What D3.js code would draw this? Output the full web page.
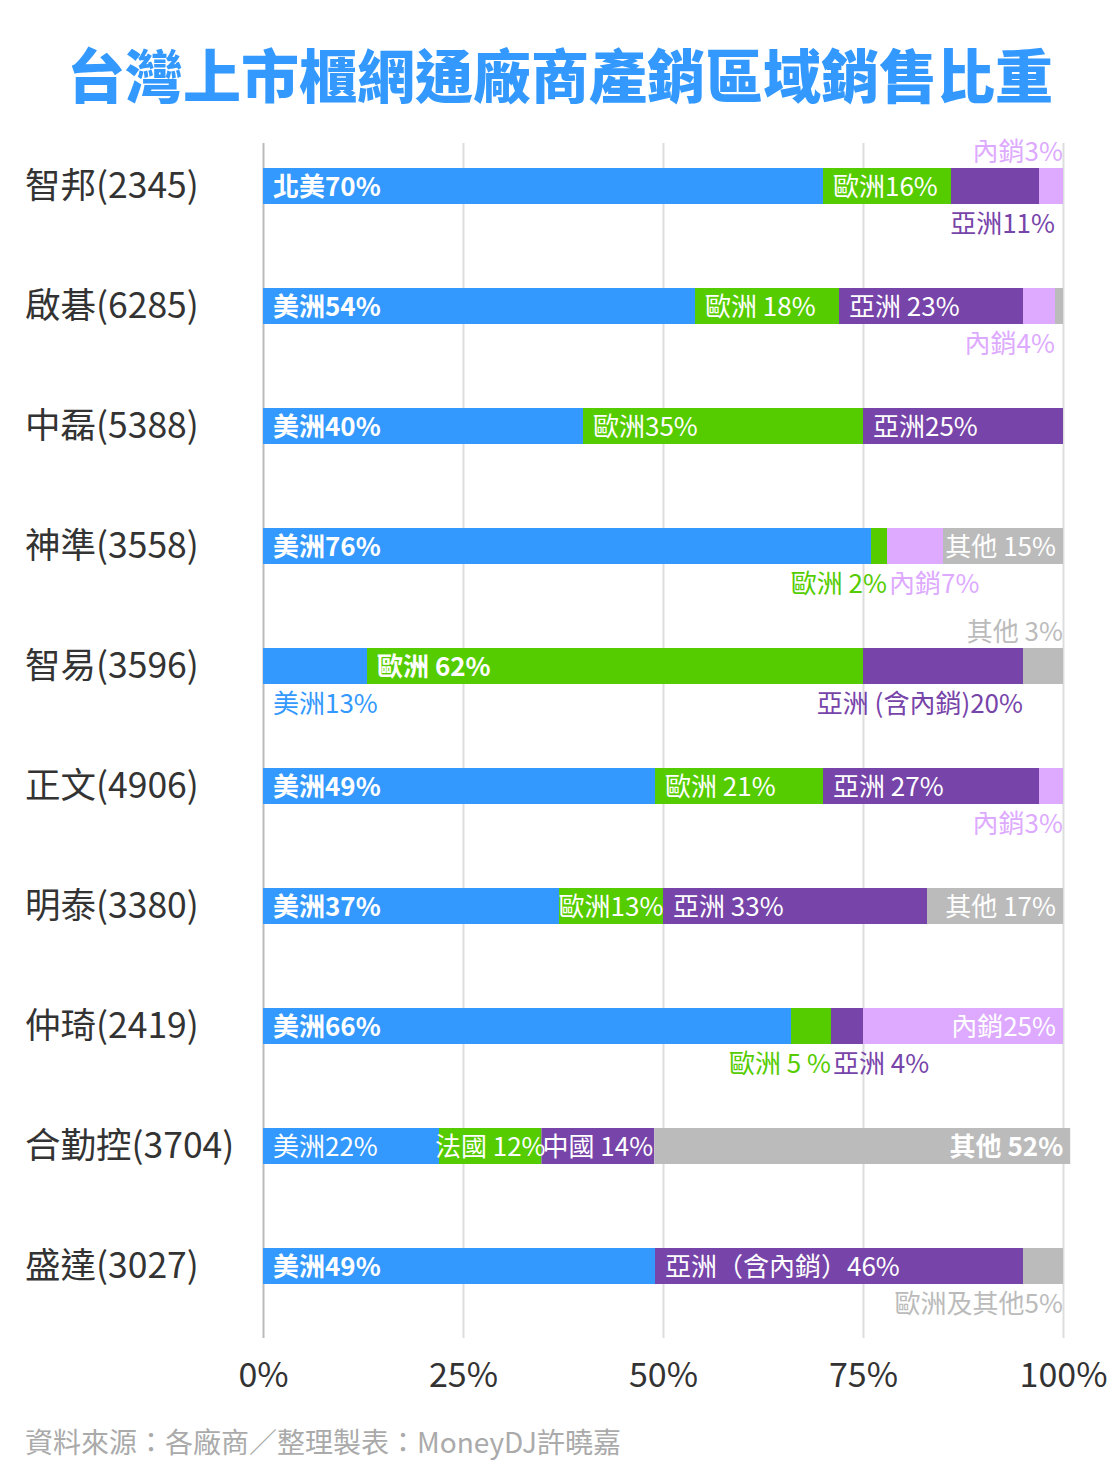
<!DOCTYPE html>
<html>
<head>
<meta charset="utf-8">
<script src="https://cdn.jsdelivr.net/npm/d3@7"></script>
<style>
  body { margin: 0; background: #fff; }
  svg { display: block; font-family: "Noto Sans CJK TC", "Noto Sans", sans-serif; }
</style>
</head>
<body>
<div id="chart"></div>
<script>
const companies = ['智邦(2345)', '啟碁(6285)', '中磊(5388)', '神準(3558)', '智易(3596)',
  '正文(4906)', '明泰(3380)', '仲琦(2419)', '合勤控(3704)', '盛達(3027)'];

// region of each segment: am 美洲, eu 歐洲, as 亞洲, dom 內銷, oth 其他
const rowRegions = [
  ['am', 'eu', 'as', 'dom'],
  ['am', 'eu', 'as', 'dom', 'oth'],
  ['am', 'eu', 'as'],
  ['am', 'eu', 'dom', 'oth'],
  ['am', 'eu', 'as', 'oth'],
  ['am', 'eu', 'as', 'dom'],
  ['am', 'eu', 'as', 'oth'],
  ['am', 'eu', 'as', 'dom'],
  ['am', 'eu', 'as', 'oth'],
  ['am', 'as', 'oth'],
];

const rowValues = [
  [70, 16, 11, 3],
  [54, 18, 23, 4, 1],
  [40, 35, 25],
  [76, 2, 7, 15],
  [13, 62, 20, 5],
  [49, 21, 27, 3],
  [37, 13, 33, 17],
  [66, 5, 4, 25],
  [22, 12.8, 14.1, 52],
  [49, 46, 5],
];

const rowLabels = [
  ['北美70%', '歐洲16%', '亞洲11%', '內銷3%'],
  ['美洲54%', '歐洲 18%', '亞洲 23%', '內銷4%', ''],
  ['美洲40%', '歐洲35%', '亞洲25%'],
  ['美洲76%', '歐洲 2%', '內銷7%', '其他 15%'],
  ['美洲13%', '歐洲 62%', '亞洲 (含內銷)20%', '其他 3%'],
  ['美洲49%', '歐洲 21%', '亞洲 27%', '內銷3%'],
  ['美洲37%', '歐洲13%', '亞洲 33%', '其他 17%'],
  ['美洲66%', '歐洲 5 %', '亞洲 4%', '內銷25%'],
  ['美洲22%', '法國 12%', '中國 14%', '其他 52%'],
  ['美洲49%', '亞洲（含內銷）46%', '歐洲及其他5%'],
];

// in = inside bar (L/C/R), up = above, dn = below, B = bold
const rowPlace = [
  ['inLB', 'inL', 'dnE', 'upR'],
  ['inLB', 'inL', 'inL', 'dnR', ''],
  ['inLB', 'inL', 'inL'],
  ['inLB', 'dnR', 'dnL', 'inR'],
  ['dnL', 'inLB', 'dnR', 'upR'],
  ['inLB', 'inL', 'inL', 'dnR'],
  ['inLB', 'inC', 'inL', 'inR'],
  ['inLB', 'dnR', 'dnL', 'inR'],
  ['inL', 'inC', 'inC', 'inRB'],
  ['inLB', 'inL', 'dnR'],
];

const tickValues = [0, 25, 50, 75, 100];

const colors = {
  am: '#3399ff',
  eu: '#55cc00',
  as: '#7744aa',
  dom: '#ddaaff',
  oth: '#bbbbbb',
};

const width = 1120;
const height = 1460;
const gridTop = 143;
const gridBottom = 1338;

const svg = d3.select('#chart').append('svg')
  .attr('width', width)
  .attr('height', height);

const x = d3.scaleLinear().domain([0, 100]).range([263, 1063]);
const y = d3.scaleBand().domain(companies).range([126, 1326])
  .paddingInner(0.7).paddingOuter(0.35);

// title
svg.append('text')
  .attr('x', width / 2)
  .attr('y', 98)
  .attr('text-anchor', 'middle')
  .style('font-size', '58px')
  .style('font-weight', 900)
  .style('fill', '#3399ff')
  .text('台灣上市櫃網通廠商產銷區域銷售比重');

// grid
const grid = svg.append('g')
  .attr('class', 'grid')
  .attr('transform', `translate(0,${gridBottom})`)
  .call(d3.axisBottom(x).tickValues(tickValues).tickSize(-(gridBottom - gridTop)).tickFormat(''));
grid.select('.domain').remove();
grid.selectAll('.tick line')
  .style('stroke', (d) => (d === 0 ? '#bbbbbb' : '#dddddd'))
  .style('stroke-width', 2);

// axis labels
const axis = svg.append('g')
  .attr('class', 'x-axis')
  .attr('transform', `translate(0,${gridBottom})`)
  .call(d3.axisBottom(x).tickValues(tickValues).tickSize(0).tickPadding(0).tickFormat((d) => `${d}%`));
axis.select('.domain').remove();
axis.selectAll('.tick text')
  .attr('y', 49)
  .attr('dy', 0)
  .style('font-family', '"Noto Sans CJK TC", sans-serif')
  .style('font-size', '34px')
  .style('fill', '#333333');

// company names
svg.append('g')
  .selectAll('text')
  .data(companies)
  .enter().append('text')
  .attr('x', 25)
  .attr('y', (d) => y(d) + y.bandwidth() / 2 + 12)
  .style('font-size', '35.5px')
  .style('fill', '#333333')
  .text((d) => d);

// bars
const segments = [];
companies.forEach((name, i) => {
  const ends = d3.cumsum(rowValues[i]);
  rowValues[i].forEach((v, j) => {
    segments.push({
      company: name,
      region: rowRegions[i][j],
      x0: ends[j] - v,
      x1: ends[j],
      rowEnd: ends[ends.length - 1],
      label: rowLabels[i][j],
      place: rowPlace[i][j],
    });
  });
});

svg.append('g')
  .selectAll('rect')
  .data(segments)
  .enter().append('rect')
  .attr('x', (d) => x(d.x0))
  .attr('y', (d) => y(d.company))
  .attr('width', (d) => x(d.x1) - x(d.x0))
  .attr('height', y.bandwidth())
  .style('fill', (d) => colors[d.region]);

// segment labels
const labelX = (d) => {
  const p = d.place;
  if (p.startsWith('inL')) return x(d.x0) + 10;
  if (p.startsWith('inC')) return (x(d.x0) + x(d.x1)) / 2;
  if (p.startsWith('inR')) return x(d.x1) - 7;
  if (p === 'dnE') return x(d.rowEnd) - 8;
  if (p === 'dnL') return d.x0 === 0 ? x(d.x0) + 10 : x(d.x0) + 2;
  return x(d.x1);
};
const labelY = (d) => {
  const top = y(d.company);
  if (d.place.startsWith('up')) return top - 7;
  if (d.place.startsWith('dn')) return top + y.bandwidth() + 29;
  return top + y.bandwidth() / 2 + 10;
};
const labelAnchor = (d) => {
  const p = d.place;
  if (p.startsWith('inC')) return 'middle';
  if (p.startsWith('inR') || p === 'upR' || p === 'dnR' || p === 'dnE') return 'end';
  return 'start';
};

svg.append('g')
  .selectAll('text')
  .data(segments.filter((d) => d.label))
  .enter().append('text')
  .attr('x', labelX)
  .attr('y', labelY)
  .attr('text-anchor', labelAnchor)
  .style('white-space', 'pre')
  .style('font-size', '26px')
  .style('font-weight', (d) => (d.place.endsWith('B') ? 700 : 400))
  .style('fill', (d) => (d.place.startsWith('in') ? '#ffffff' : colors[d.region]))
  .text((d) => d.label);

// source
svg.append('text')
  .attr('x', 25)
  .attr('y', 1453)
  .style('font-size', '28px')
  .style('fill', '#aaaaaa')
  .text('資料來源：各廠商／整理製表：MoneyDJ許曉嘉');
</script>
</body>
</html>
